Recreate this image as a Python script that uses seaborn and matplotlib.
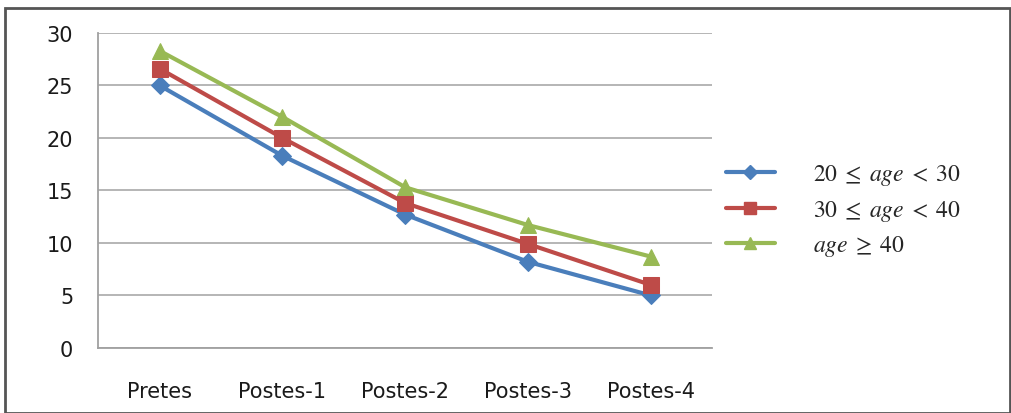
import pandas as pd
import matplotlib.pyplot as plt
import seaborn as sns
from matplotlib.lines import Line2D
from matplotlib.patches import Rectangle

# values
tests = ["Pretes", "Postes-1", "Postes-2", "Postes-3", "Postes-4"]
age_20_30 = [25.0, 18.3, 12.7, 8.2, 5.0]
age_30_40 = [26.6, 20.0, 13.8, 9.9, 6.0]
age_40_up = [28.3, 22.0, 15.3, 11.7, 8.7]
groups = [r"$20 \;\leq\; age \;<\; 30$", r"$30 \;\leq\; age \;<\; 40$", r"$age \;\geq\; 40$"]

df = pd.DataFrame({
    "Test": tests * 3,
    "Score": age_20_30 + age_30_40 + age_40_up,
    "Group": [g for g in groups for _ in tests],
})

sns.set_style("white")
plt.rcParams["mathtext.fontset"] = "stix"
plt.rcParams["font.family"] = ["DejaVu Sans"]

colors = ["#4a7ebb", "#be4b48", "#98b954"]
markers = ["D", "s", "^"]
sizes = [9, 11, 11]

fig = plt.figure(figsize=(10.12, 4.14), dpi=100)
ax = fig.add_axes([0.097, 0.157, 0.607, 0.761])

for g, c, m, s in zip(groups, colors, markers, sizes):
    sns.lineplot(data=df[df["Group"] == g], x="Test", y="Score", color=c,
                 marker=m, markersize=s, markeredgecolor=c, linewidth=3,
                 ax=ax, legend=False)

ax.set_xlim(-0.5, 4.5)
ax.set_ylim(0, 30)
ax.set_yticks(range(0, 31, 5))
ax.yaxis.grid(True, color="#b0b0b0", linewidth=1.3)
ax.set_xlabel("")
ax.set_ylabel("")
for side in ["top", "right"]:
    ax.spines[side].set_visible(False)
for side in ["left", "bottom"]:
    ax.spines[side].set_color("#a0a0a0")
    ax.spines[side].set_linewidth(1.3)

ax.set_xticks(range(len(tests)))
ax.set_xticklabels(tests)
ax.set_xticks([i - 0.5 for i in range(len(tests) + 1)], minor=True)
ax.tick_params(axis="x", which="major", length=0, pad=24, labelsize=15, labelcolor="#1a1a1a")
ax.tick_params(axis="x", which="minor", length=7, width=1.3, color="#a0a0a0", direction="out")
ax.tick_params(axis="y", length=6, width=1.3, color="#a0a0a0", pad=12, labelsize=15, labelcolor="#1a1a1a")

handles = [Line2D([], [], color=c, marker=m, markersize=s - 2, linewidth=3)
           for c, m, s in zip(colors, markers, sizes)]
fig.legend(handles, groups, loc="upper left", bbox_to_anchor=(0.696, 0.659),
           frameon=False, fontsize=17, handlelength=2.1, handletextpad=1.6,
           labelspacing=0.4)

fig.patches.append(Rectangle((0.005, 0.0), 0.993, 0.978, transform=fig.transFigure,
                             fill=False, edgecolor="#555555", linewidth=2))

fig.savefig("out.png", dpi=100)
